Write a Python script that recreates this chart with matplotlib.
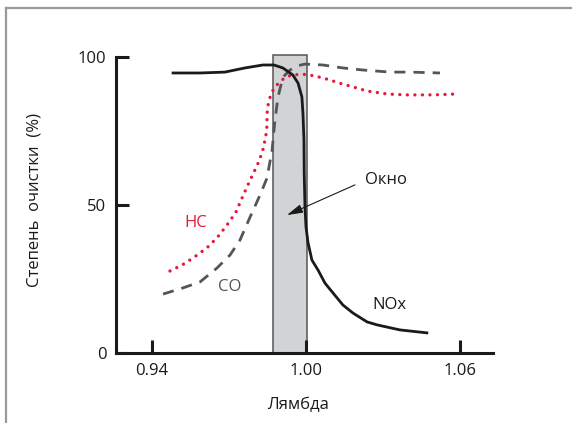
import matplotlib
matplotlib.use("Agg")
import matplotlib.pyplot as plt
from matplotlib.patches import Rectangle
from matplotlib.lines import Line2D

plt.rcParams['font.family'] = ['Open Sans', 'DejaVu Sans']

# --- data ---
nox_x = [0.9482, 0.9587, 0.9684, 0.9762, 0.9832, 0.9875, 0.9910, 0.9949, 0.9969,
         0.9984, 0.9988, 0.9992, 0.9993, 0.9996, 1.0000, 1.0008, 1.0023, 1.0047,
         1.0074, 1.0105, 1.0144, 1.0183, 1.0238, 1.0277, 1.0366, 1.0471]
nox_y = [94.6, 94.6, 94.9, 96.3, 97.3, 97.3, 96.3, 93.9, 91.2,
         86.5, 81.1, 72.0, 60.8, 49.3, 42.6, 37.2, 31.4, 28.0,
         23.6, 20.3, 16.2, 13.5, 10.5, 9.5, 7.8, 6.8]

co_x = [0.9443, 0.9521, 0.9587, 0.9653, 0.9704, 0.9743, 0.9782, 0.9821, 0.9848, 0.9868,
        0.9879, 0.9891, 0.9910, 0.9938, 0.9965, 0.9996, 1.0066, 1.0144, 1.0222, 1.0327,
        1.0405, 1.0522]
co_y = [19.9, 22.0, 24.0, 28.7, 33.1, 38.2, 45.9, 53.4, 59.1, 68.6,
        78.7, 86.5, 93.2, 95.6, 97.0, 97.6, 97.3, 96.3, 95.6, 94.9,
        94.9, 94.6]

hc_x = [0.9470, 0.9517, 0.9560, 0.9614, 0.9653, 0.9692, 0.9727, 0.9751, 0.9770,
        0.9795, 0.9818, 0.9834, 0.9847, 0.9849, 0.9853, 0.9860, 0.9868, 0.9883,
        0.9899, 0.9918, 0.9944, 0.9987, 1.0035, 1.0087, 1.0133, 1.0183, 1.0238,
        1.0316, 1.0393, 1.0495, 1.0588]
hc_y = [27.7, 29.7, 32.1, 35.5, 38.9, 43.2, 47.6, 52.4, 56.1,
        60.7, 65.0, 69.2, 75.1, 81.8, 84.1, 86.4, 88.3, 90.2,
        91.7, 93.0, 93.9, 94.2, 93.6, 92.4, 91.1, 89.9, 88.5,
        87.5, 87.2, 87.2, 87.5]

window = (0.9871, 1.0004)   # "Окно" band in lambda
x_ticks = [0.94, 1.00, 1.06]
x_labels = ['0.94', '1.00', '1.06']
y_ticks = [0, 50, 100]

fig = plt.figure(figsize=(5.72, 4.23), dpi=100)
ax = fig.add_axes([116/572, 1 - 353/423, (493 - 116)/572, (353 - 57)/423])

# outer frame (left and top only)
fig.add_artist(Line2D([6/572, 6/572], [0, 1 - 8/423], transform=fig.transFigure,
                      color='#9a9a9a', lw=1.6))
fig.add_artist(Line2D([6/572, 1], [1 - 8/423, 1 - 8/423], transform=fig.transFigure,
                      color='#9a9a9a', lw=1.6))

ax.add_patch(Rectangle((window[0], 0), window[1] - window[0], 100.7,
                       facecolor='#d1d3d4', edgecolor='#555555', lw=1.1,
                       clip_on=False, zorder=1))

ax.plot(hc_x, hc_y, color='#e8173a', lw=2.4, ls=(0, (0.01, 2.25)),
        dash_capstyle='round', zorder=3)
ax.plot(co_x, co_y, color='#555555', lw=2.0, ls=(0, (4, 2.9)), zorder=3)
ax.plot(nox_x, nox_y, color='#1a1a1a', lw=2.0, zorder=4)

ax.text(0.9525, 43.9, 'HC', color='#e8173a', fontsize=12, va='center', ha='left')
ax.text(0.9657, 22.3, 'CO', color='#555555', fontsize=12, va='center', ha='left')
ax.text(1.0257, 16.2, 'NOx', color='#1a1a1a', fontsize=12, va='center', ha='left')
ax.text(1.0230, 58.4, 'Окно', color='#1a1a1a', fontsize=12, va='center', ha='left')
ax.annotate('', xy=(0.9926, 46.6), xytext=(1.0191, 56.8),
            arrowprops=dict(arrowstyle='-|>,head_length=0.8,head_width=0.22',
                            color='#1a1a1a', lw=0.8, shrinkA=0, shrinkB=0),
            fontsize=12, zorder=5)

ax.set_xlim(0.92597, 1.07286)
ax.set_ylim(0, 100)
ax.set_xticks(x_ticks)
ax.set_xticklabels(x_labels)
ax.set_yticks(y_ticks)
for s in ['top', 'right']:
    ax.spines[s].set_visible(False)
for s in ['left', 'bottom']:
    ax.spines[s].set_linewidth(2.2)
    ax.spines[s].set_color('#1a1a1a')
ax.tick_params(direction='in', length=9.5, width=2.2, color='#1a1a1a',
               labelsize=12, labelcolor='#1a1a1a')
ax.tick_params(axis='x', pad=7)
ax.tick_params(axis='y', pad=7)

fig.text(35/572, 1 - 200/423, 'Степень  очистки  (%)', rotation=90,
         ha='center', va='center', fontsize=12, color='#1a1a1a')
fig.text(298/572, 1 - 405/423, 'Лямбда', ha='center', va='center',
         fontsize=12, color='#1a1a1a')

fig.savefig('out.png', dpi=100)
